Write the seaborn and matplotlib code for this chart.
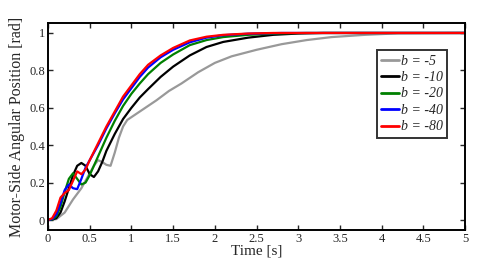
import pandas as pd
import matplotlib
matplotlib.use("Agg")
import matplotlib.pyplot as plt
import seaborn as sns

# curves (time [s], position [rad])
t_b5 = [0, 0.1, 0.2, 0.3, 0.4, 0.5, 0.55, 0.6, 0.65, 0.7, 0.75, 0.8, 0.85, 0.9, 0.95, 1.0,
        1.1, 1.2, 1.3, 1.45, 1.6, 1.8, 2.0, 2.2, 2.5, 2.8, 3.1, 3.4, 3.8, 4.2, 5]
y_b5 = [0, 0.005, 0.04, 0.11, 0.17, 0.25, 0.29, 0.32, 0.31, 0.295, 0.29, 0.36, 0.44, 0.5, 0.535, 0.55,
        0.58, 0.61, 0.64, 0.69, 0.73, 0.79, 0.84, 0.875, 0.91, 0.94, 0.962, 0.978, 0.99, 0.998, 1.0]

t_b10 = [0, 0.05, 0.1, 0.15, 0.2, 0.25, 0.3, 0.35, 0.4, 0.45, 0.5, 0.55, 0.6, 0.65, 0.7, 0.8, 0.9,
         1.0, 1.1, 1.2, 1.35, 1.5, 1.7, 1.9, 2.1, 2.4, 2.7, 3.0, 3.3, 5]
y_b10 = [0, 0.002, 0.01, 0.04, 0.1, 0.17, 0.24, 0.29, 0.305, 0.29, 0.245, 0.23, 0.26, 0.31, 0.37, 0.46, 0.54,
         0.60, 0.655, 0.70, 0.765, 0.82, 0.88, 0.925, 0.952, 0.975, 0.99, 0.997, 1.0, 1.0]

t_b20 = [0, 0.05, 0.1, 0.15, 0.2, 0.25, 0.3, 0.35, 0.4, 0.45, 0.5, 0.55, 0.6, 0.7, 0.8, 0.9, 1.0,
         1.1, 1.2, 1.35, 1.5, 1.7, 1.9, 2.1, 2.4, 2.8, 3.1, 5]
y_b20 = [0, 0.003, 0.02, 0.07, 0.15, 0.22, 0.25, 0.22, 0.19, 0.2, 0.24, 0.29, 0.34, 0.44, 0.53, 0.61, 0.675,
         0.73, 0.78, 0.84, 0.885, 0.935, 0.962, 0.978, 0.99, 0.998, 1.0, 1.0]

t_b40 = [0, 0.05, 0.1, 0.15, 0.2, 0.25, 0.3, 0.35, 0.4, 0.45, 0.5, 0.6, 0.7, 0.8, 0.9, 1.0,
         1.1, 1.2, 1.35, 1.5, 1.7, 1.9, 2.1, 2.4, 2.8, 5]
y_b40 = [0, 0.005, 0.03, 0.09, 0.16, 0.19, 0.17, 0.165, 0.22, 0.28, 0.32, 0.40, 0.49, 0.57, 0.645, 0.705,
         0.765, 0.815, 0.87, 0.91, 0.95, 0.975, 0.988, 0.996, 1.0, 1.0]

t_b80 = [0, 0.05, 0.1, 0.15, 0.2, 0.25, 0.3, 0.35, 0.4, 0.45, 0.5, 0.6, 0.7, 0.8, 0.9, 1.0,
         1.1, 1.2, 1.35, 1.5, 1.7, 1.9, 2.1, 2.4, 2.7, 5]
y_b80 = [0, 0.01, 0.05, 0.12, 0.145, 0.16, 0.21, 0.26, 0.245, 0.27, 0.32, 0.41, 0.50, 0.58, 0.66, 0.72,
         0.78, 0.83, 0.88, 0.92, 0.96, 0.98, 0.99, 0.997, 1.0, 1.0]

labels = ["b = -5", "b = -10", "b = -20", "b = -40", "b = -80"]
colors = ["#999999", "#000000", "#008000", "#0000ff", "#ff0000"]

series = [(t_b5, y_b5), (t_b10, y_b10), (t_b20, y_b20), (t_b40, y_b40), (t_b80, y_b80)]
frames = []
for lab, (t, y) in zip(labels, series):
    frames.append(pd.DataFrame({"t": t, "pos": y, "b": lab}))
df = pd.concat(frames, ignore_index=True)

sns.set_style("ticks")
plt.rcParams["font.family"] = ["Liberation Serif", "DejaVu Serif"]

fig = plt.figure(figsize=(4.8, 2.68), dpi=100)
ax = fig.add_axes([0.100, 0.142, 0.869, 0.772])

sns.lineplot(data=df, x="t", y="pos", hue="b", hue_order=labels,
             palette=dict(zip(labels, colors)), linewidth=1.6, sort=False, ax=ax)

ax.set_xlim(0, 5)
ax.set_ylim(-0.053, 1.053)
ax.set_xticks([0, 0.5, 1, 1.5, 2, 2.5, 3, 3.5, 4, 4.5, 5])
ax.set_xticklabels(["0", "0.5", "1", "1.5", "2", "2.5", "3", "3.5", "4", "4.5", "5"])
ax.set_yticks([0, 0.2, 0.4, 0.6, 0.8, 1])
ax.set_yticklabels(["0", "0.2", "0.4", "0.6", "0.8", "1"])
ax.tick_params(direction="in", top=True, right=True, length=3.5, width=1.0,
               labelsize=9, pad=2)
for sp in ax.spines.values():
    sp.set_linewidth(1.4)
    sp.set_color("black")

ax.set_xlabel("Time [s]", fontsize=11, labelpad=0)
ax.set_ylabel("Motor-Side Angular Position [rad]", fontsize=11.5, labelpad=3)

leg = ax.legend(loc="upper right", bbox_to_anchor=(0.956, 0.868), frameon=True,
                fancybox=False, handlelength=1.3, handletextpad=0.1,
                labelspacing=0.25, borderpad=0.3, borderaxespad=0,
                prop={"style": "italic", "size": 10})
leg.get_frame().set_edgecolor("black")
leg.get_frame().set_linewidth(1.4)
for line in leg.get_lines():
    line.set_linewidth(2.0)

fig.savefig("out.png", dpi=100)
